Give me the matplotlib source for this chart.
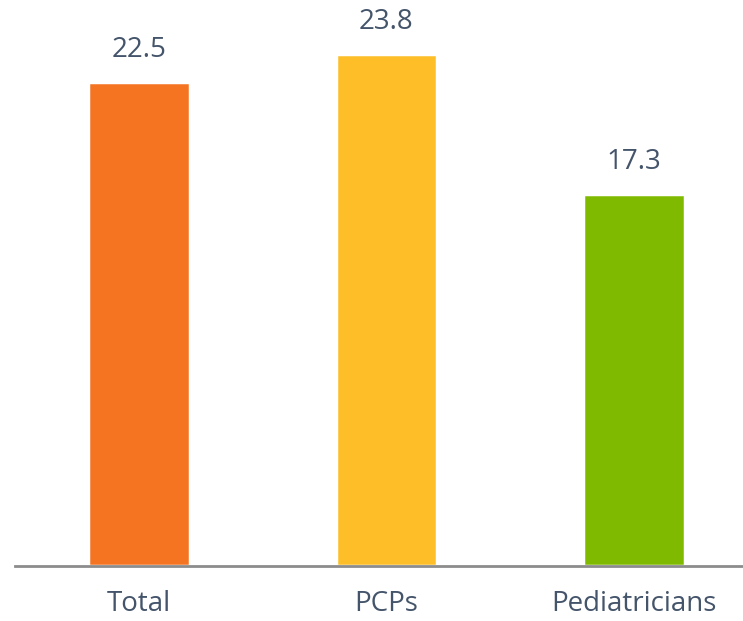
import matplotlib.pyplot as plt
import matplotlib.patheffects as pe

categories = ['Total', 'PCPs', 'Pediatricians']
values = [22.5, 23.8, 17.3]
colors = ['#F47421', '#FDBE27', '#7FBA00']

plt.rcParams['font.family'] = ['Open Sans', 'DejaVu Sans']

fig = plt.figure(figsize=(7.43, 6.21), dpi=100)
ax = fig.add_axes([15 / 743, 55 / 621, 728 / 743, 537.5 / 621])

x = range(len(categories))
bars = ax.bar(x, values, width=0.41, color=colors, edgecolor='white', linewidth=2.5)
for b in bars:
    b.set_path_effects([pe.SimplePatchShadow(offset=(1.5, -1.5), shadow_rgbFace='#888888', alpha=0.45), pe.Normal()])

for xi, v in zip(x, values):
    ax.text(xi, v + 0.85, f'{v}', ha='center', va='bottom', fontsize=20, color='#44546A')

ax.set_xlim(-0.5, 2.44)
ax.set_ylim(0, 25)
ax.set_xticks(list(x))
ax.set_xticklabels(categories, fontsize=20, color='#44546A')
ax.tick_params(axis='x', length=0, pad=17)
ax.set_yticks([])
for s in ['top', 'right', 'left']:
    ax.spines[s].set_visible(False)
ax.spines['bottom'].set_color('#8C8C8C')
ax.spines['bottom'].set_linewidth(2)

fig.savefig('out.png', dpi=100)
